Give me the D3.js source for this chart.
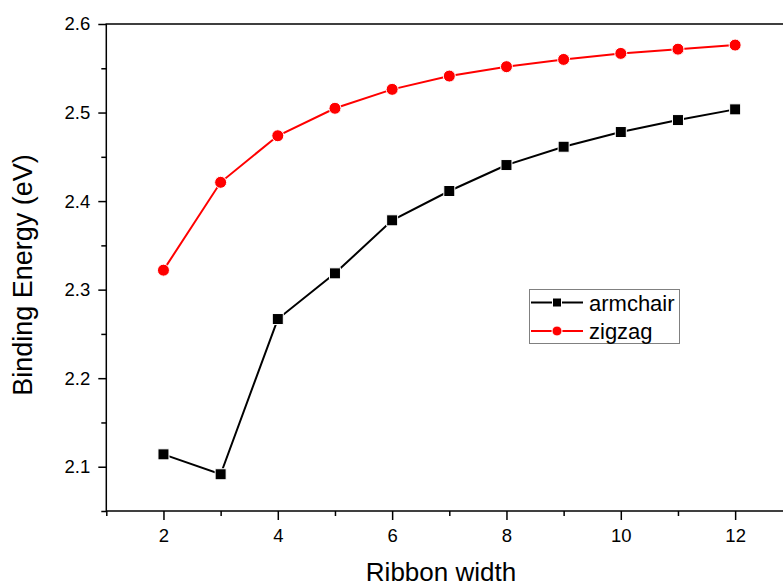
<!DOCTYPE html>
<html>
<head>
<meta charset="utf-8">
<script src="https://cdn.jsdelivr.net/npm/d3@7/dist/d3.min.js"></script>
<style>
  html, body { margin: 0; padding: 0; background: #fff; }
  svg { display: block; font-family: "Liberation Sans", Arial, sans-serif; }
</style>
</head>
<body>
<svg id="chart" width="783" height="587"></svg>
<script>
const widths = [2, 3, 4, 5, 6, 7, 8, 9, 10, 11, 12];
const armchair = [2.114, 2.0915, 2.2668, 2.3184, 2.3783, 2.4114, 2.4407, 2.4614, 2.478, 2.4915, 2.5036];
const zigzag = [2.322, 2.4212, 2.4738, 2.5048, 2.5262, 2.5412, 2.5518, 2.560, 2.5668, 2.5716, 2.5762];
const xMajorTicks = [2, 4, 6, 8, 10, 12];
const xMinorTicks = [1, 3, 5, 7, 9, 11, 13];
const yMajorTicks = [2.1, 2.2, 2.3, 2.4, 2.5, 2.6];
const yMinorTicks = [2.05, 2.15, 2.25, 2.35, 2.45, 2.55];
const seriesNames = ["armchair", "zigzag"];

const svg = d3.select("#chart");
const x = d3.scaleLinear().domain([1, 13]).range([106.3, 792.3]);
const y = d3.scaleLinear().domain([2.05, 2.6]).range([511, 24]);

const fmtY = d3.format(".1f");

const gxMaj = svg.append("g").attr("transform", `translate(0,${y(2.05)})`)
  .call(d3.axisBottom(x).tickValues(xMajorTicks).tickSize(9).tickPadding(9).tickSizeOuter(0).tickFormat(d3.format("d")));
const gxMin = svg.append("g").attr("transform", `translate(0,${y(2.05)})`)
  .call(d3.axisBottom(x).tickValues(xMinorTicks).tickSize(5).tickSizeOuter(0).tickFormat(""));
const gyMaj = svg.append("g").attr("transform", `translate(${x(1)},0)`)
  .call(d3.axisLeft(y).tickValues(yMajorTicks).tickSize(8).tickPadding(8).tickSizeOuter(0).tickFormat(fmtY));
const gyMin = svg.append("g").attr("transform", `translate(${x(1)},0)`)
  .call(d3.axisLeft(y).tickValues(yMinorTicks).tickSize(5).tickSizeOuter(0).tickFormat(""));

[gxMaj, gxMin, gyMaj, gyMin].forEach(g => {
  g.select(".domain").remove();
  g.selectAll(".tick line").attr("stroke", "#000").attr("stroke-width", 1.5);
  g.selectAll(".tick text").attr("fill", "#000").style("font-size", "18.5px")
    .style("font-family", '"Liberation Sans", Arial, sans-serif');
});

// Frame
svg.append("rect")
  .attr("x", x(1)).attr("y", y(2.6))
  .attr("width", x(13) - x(1)).attr("height", y(2.05) - y(2.6))
  .attr("fill", "none").attr("stroke", "#000").attr("stroke-width", 1.5);

// Axis titles
svg.append("text")
  .attr("x", 441).attr("y", 581)
  .attr("text-anchor", "middle")
  .style("font-size", "26px")
  .text("Ribbon width");

svg.append("text")
  .attr("transform", `translate(32,275) rotate(-90)`)
  .attr("text-anchor", "middle")
  .style("font-size", "27px")
  .text("Binding Energy (eV)");

// Lines
const line = d3.line().x((d, i) => x(widths[i])).y(d => y(d));
const plot = svg.append("g");

plot.append("path").datum(armchair)
  .attr("d", line).attr("fill", "none").attr("stroke", "#000").attr("stroke-width", 2);
plot.append("path").datum(zigzag)
  .attr("d", line).attr("fill", "none").attr("stroke", "#ff0000").attr("stroke-width", 2);

const sq = 11;
plot.selectAll("rect.arm").data(armchair).enter().append("rect")
  .attr("class", "arm")
  .attr("x", (d, i) => x(widths[i]) - sq / 2)
  .attr("y", d => y(d) - sq / 2)
  .attr("width", sq).attr("height", sq)
  .attr("fill", "#000").attr("stroke", "#fff").attr("stroke-width", 1);

plot.selectAll("circle.zig").data(zigzag).enter().append("circle")
  .attr("class", "zig")
  .attr("cx", (d, i) => x(widths[i]))
  .attr("cy", d => y(d))
  .attr("r", 6)
  .attr("fill", "#ff0000").attr("stroke", "#fff").attr("stroke-width", 1);

// Legend
const leg = svg.append("g");
leg.append("rect").attr("x", 529.5).attr("y", 289.5).attr("width", 150).attr("height", 54)
  .attr("fill", "#fff").attr("stroke", "#808080").attr("stroke-width", 1);

const legY = [302.5, 331];
const legColors = ["#000", "#ff0000"];
seriesNames.forEach((name, k) => {
  leg.append("line").attr("x1", 531).attr("x2", 583).attr("y1", legY[k]).attr("y2", legY[k])
    .attr("stroke", legColors[k]).attr("stroke-width", 2);
  if (k === 0) {
    leg.append("rect").attr("x", 552.5).attr("y", legY[k] - 4.5).attr("width", 9).attr("height", 9)
      .attr("fill", "#000").attr("stroke", "#fff").attr("stroke-width", 1);
  } else {
    leg.append("circle").attr("cx", 557).attr("cy", legY[k]).attr("r", 5)
      .attr("fill", "#ff0000").attr("stroke", "#fff").attr("stroke-width", 1);
  }
  leg.append("text").attr("x", 589).attr("y", legY[k] + 8)
    .style("font-size", "22px").attr("fill", "#000").text(name);
});
</script>
</body>
</html>
